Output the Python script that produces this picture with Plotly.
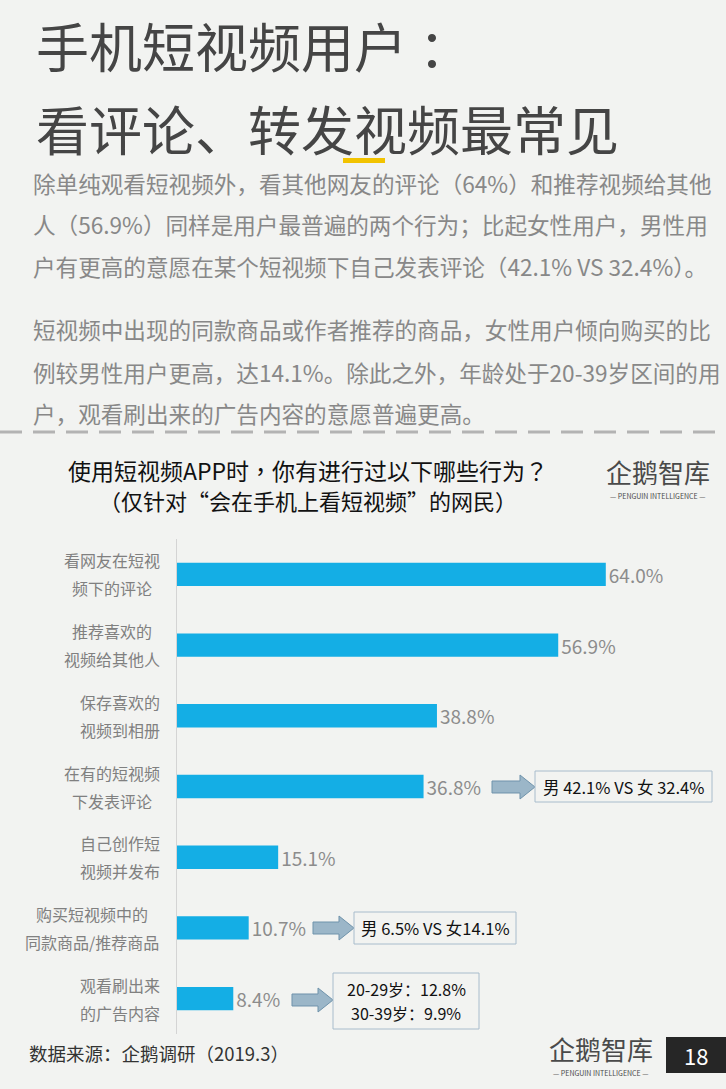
import plotly.graph_objects as go

# data
behaviors = [
    ["看网友在短视", "频下的评论"],
    ["推荐喜欢的", "视频给其他人"],
    ["保存喜欢的", "视频到相册"],
    ["在有的短视频", "下发表评论"],
    ["自己创作短", "视频并发布"],
    ["购买短视频中的", "同款商品/推荐商品"],
    ["观看刷出来", "的广告内容"],
]
shares = [64.0, 56.9, 38.8, 36.8, 15.1, 10.7, 8.4]
callout_rows = [3, 5, 6]
callout_texts = [["男 42.1% VS 女 32.4%"], ["男 6.5% VS 女14.1%"], ["20-29岁：12.8%", "30-39岁：9.9%"]]

title_lines = ["手机短视频用户 ：", "看评论、转发视频最常见"]
para_lines = [
    "除单纯观看短视频外，看其他网友的评论（64%）和推荐视频给其他",
    "人（56.9%）同样是用户最普遍的两个行为；比起女性用户，男性用",
    "户有更高的意愿在某个短视频下自己发表评论（42.1% VS 32.4%）。",
    "短视频中出现的同款商品或作者推荐的商品，女性用户倾向购买的比",
    "例较男性用户更高，达14.1%。除此之外，年龄处于20-39岁区间的用",
    "户，观看刷出来的广告内容的意愿普遍更高。",
]
chart_title = ["使用短视频APP时，你有进行过以下哪些行为？", "（仅针对“会在手机上看短视频”的网民）"]
source = "数据来源：企鹅调研（2019.3）"
page_no = "18"

W, H = 726, 1089
BG = "#f2f3f1"
FONT = "Noto Sans CJK SC"


def px(x):
    return x / W


def py(y):
    return 1 - y / H


def text_width(s, size):
    return sum(size * (0.55 if ord(c) < 128 else 1.0) for c in s)


cats = ["".join(b) for b in behaviors]

fig = go.Figure()
fig.add_trace(
    go.Bar(
        x=shares,
        y=cats,
        orientation="h",
        marker=dict(color="#14aee5", line=dict(width=0)),
        width=0.33,
        text=[f"{v:.1f}%" for v in shares],
        textposition="outside",
        textfont=dict(size=19, color="#8c8c8c", family=FONT),
        constraintext="none",
        cliponaxis=False,
        hoverinfo="skip",
    )
)

annotations = []
shapes = []

# page title
for i, t in enumerate(title_lines):
    annotations.append(dict(x=px(34), y=py(45 + 83 * i), text=t, xanchor="left", yanchor="middle",
                            font=dict(size=53, color="#454545", family=FONT)))
shapes.append(dict(type="rect", xref="paper", yref="paper", x0=px(343), x1=px(385), y0=py(158), y1=py(163),
                   fillcolor="#f2c300", line=dict(width=0)))

# paragraphs
para_y = [183, 225, 266, 330, 372, 413]
for t, yy in zip(para_lines, para_y):
    annotations.append(dict(x=px(31), y=py(yy), text=t, xanchor="left", yanchor="middle",
                            font=dict(size=22.6, color="#888888", family=FONT)))

# dashed separator
shapes.append(dict(type="line", xref="paper", yref="paper", x0=0, x1=1, y0=py(432), y1=py(432),
                   line=dict(color="#b3b3b3", width=3, dash="22px,11px")))

# chart title (TC face centres the full-width punctuation like the original)
for t, yy, fam, sz in zip(chart_title, [470, 500], ["Noto Sans CJK TC", FONT], [23, 22]):
    annotations.append(dict(x=px(308), y=py(yy), text=t, xanchor="center", yanchor="middle",
                            font=dict(size=sz, color="#111111", family=fam)))

# logos
for cx, cy in [(658, 471), (601, 1048)]:
    annotations.append(dict(x=px(cx), y=py(cy), text="企鹅智库", xanchor="center", yanchor="middle",
                            font=dict(size=26, color="#4a4a4a", family=FONT)))
    annotations.append(dict(x=px(cx), y=py(cy + 25), text="— PENGUIN INTELLIGENCE —", xanchor="center",
                            yanchor="middle", font=dict(size=7, color="#4a4a4a", family=FONT)))

# category labels, two lines each, centred as a block
for cat, lines in zip(cats, behaviors):
    w = max(text_width(l, 16) for l in lines)
    cx = 160 - w / 2
    for k, l in enumerate(lines):
        annotations.append(dict(xref="paper", yref="y", x=px(cx), y=cat, yshift=14 - 28 * k, text=l,
                                xanchor="center", yanchor="middle", showarrow=False,
                                font=dict(size=16, color="#808080", family=FONT)))

# callouts: block arrow + box
callout_geo = [
    dict(ax0=492, ax1=535, ay=787, bx0=535, bx1=712, by0=771, by1=802),
    dict(ax0=313, ax1=354, ay=928, bx0=354, bx1=516, by0=912, by1=944),
    dict(ax0=292, ax1=333, ay=1000, bx0=333, bx1=479, by0=973, by1=1029),
]
for row, lines, g in zip(callout_rows, callout_texts, callout_geo):
    a0, a1, ay = g["ax0"], g["ax1"], g["ay"]
    hx = a1 - 15
    pts = [(a0, ay - 6), (hx, ay - 6), (hx, ay - 12), (a1, ay), (hx, ay + 12), (hx, ay + 6), (a0, ay + 6)]
    path = "M " + " L ".join(f"{px(x):.5f},{py(y):.5f}" for x, y in pts) + " Z"
    shapes.append(dict(type="path", xref="paper", yref="paper", path=path, fillcolor="#9bb6c8",
                       line=dict(color="#6f93ab", width=1)))
    shapes.append(dict(type="rect", xref="paper", yref="paper", x0=px(g["bx0"]), x1=px(g["bx1"]),
                       y0=py(g["by0"]), y1=py(g["by1"]), fillcolor=BG, line=dict(color="#a8bccc", width=1)))
    mid = (g["by0"] + g["by1"]) / 2
    for k, t in enumerate(lines):
        yy = mid + (k - (len(lines) - 1) / 2) * 24
        annotations.append(dict(x=px((g["bx0"] + g["bx1"]) / 2), y=py(yy), text=t,
                                xanchor="center", yanchor="middle",
                                font=dict(size=16.5 if len(lines) == 1 else 16, color="#111111", family=FONT)))

# footer
annotations.append(dict(x=px(27), y=py(1053), text=source, xanchor="left", yanchor="middle",
                        font=dict(size=18.5, color="#333333", family=FONT)))
shapes.append(dict(type="rect", xref="paper", yref="paper", x0=px(666), x1=1, y0=py(1037), y1=py(1073),
                   fillcolor="#262626", line=dict(width=0)))
annotations.append(dict(x=px(696), y=py(1055), text=page_no, xanchor="center", yanchor="middle",
                        font=dict(size=22, color="white", family=FONT)))

for a in annotations:
    a.setdefault("xref", "paper")
    a.setdefault("yref", "paper")
    a.setdefault("showarrow", False)

fig.update_layout(
    width=W,
    height=H,
    margin=dict(l=0, r=0, t=0, b=0),
    paper_bgcolor=BG,
    plot_bgcolor=BG,
    showlegend=False,
    xaxis=dict(domain=[px(177), px(713)], range=[0, 80], visible=False, fixedrange=True),
    yaxis=dict(domain=[py(1034), py(539)], autorange="reversed", showticklabels=False, showgrid=False,
               showline=True, linecolor="#d4d4d4", linewidth=1, ticks="", zeroline=False),
    annotations=annotations,
    shapes=shapes,
    font=dict(family=FONT),
)

# drop the default 8px body margin so the figure sits at the window's corner
fig.write_html("out.html", config={"displayModeBar": False},
               post_script="document.body.style.margin='0';")
